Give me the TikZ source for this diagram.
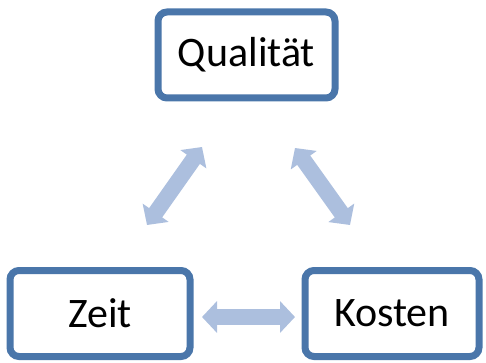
\documentclass[tikz,border=0pt]{standalone}
\usepackage{fontspec}
\setmainfont{Carlito}
\usetikzlibrary{arrows.meta,shadows}
\definecolor{boxborder}{RGB}{74,118,170}
\definecolor{arrowfill}{RGB}{172,191,222}
\begin{document}
\begin{tikzpicture}[x=1pt,y=-1pt,
  box/.style={draw=boxborder, line width=7pt, fill=white, rounded corners=9pt,
    minimum height=86pt, inner sep=0pt, font=\fontsize{42}{50}\selectfont,
    drop shadow={shadow xshift=1.5pt, shadow yshift=-2.5pt, opacity=0.25, fill=black}},
  dblarrow/.style={draw=arrowfill, line width=16pt,
    {Triangle[width=31pt,length=15pt]}-{Triangle[width=31pt,length=15pt]}}
]
\useasboundingbox (0,0) rectangle (486,363);
\node[box, minimum width=177pt] (q) at (246.5,55) {Qualität};
\node[box, minimum width=180pt] (z) at (100,313.5) {Zeit};
\node[box, minimum width=174pt] (k) at (392,313.5) {Kosten};
\coordinate (zq1) at (147,225);
\coordinate (zq2) at (202,147);
\coordinate (qk1) at (295,148);
\coordinate (qk2) at (350,225);
\coordinate (zk1) at (202,317);
\coordinate (zk2) at (295,317);
\draw[dblarrow] (zq1) -- (zq2);
\draw[dblarrow] (qk1) -- (qk2);
\draw[dblarrow] (zk1) -- (zk2);
\end{tikzpicture}
\end{document}
